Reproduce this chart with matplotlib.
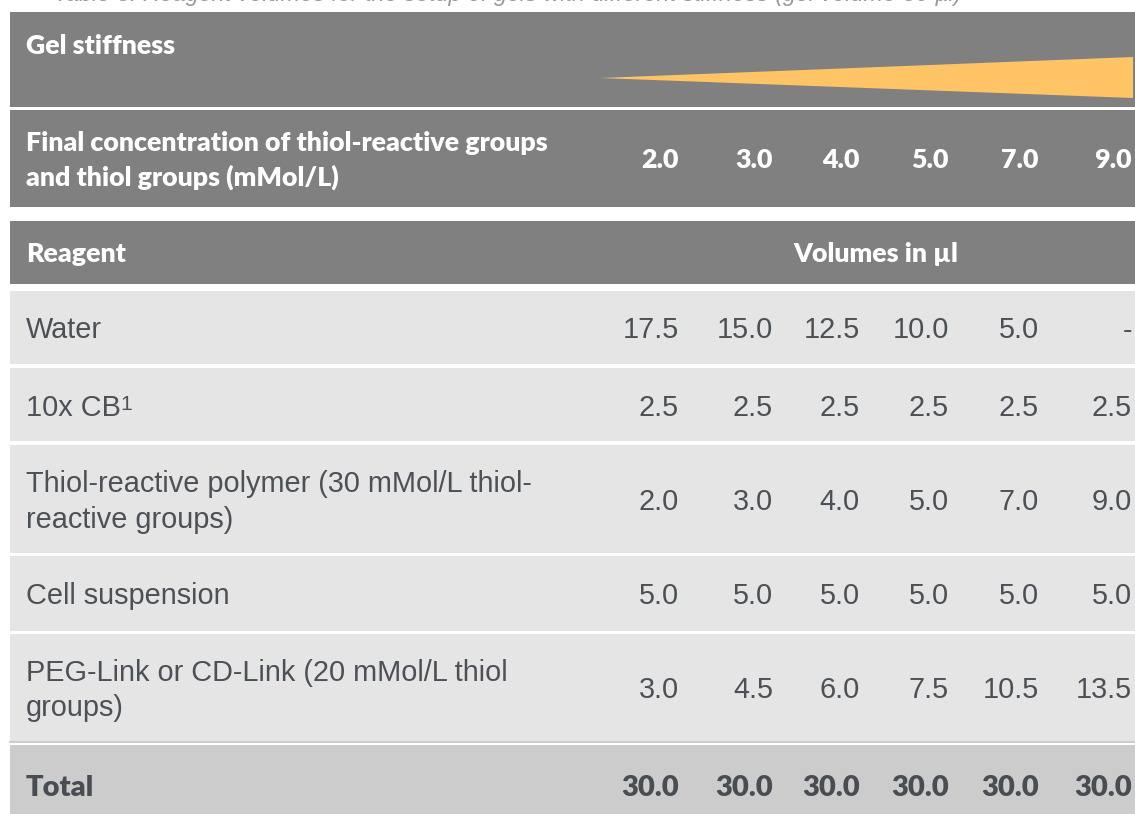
import matplotlib
matplotlib.use("Agg")
import matplotlib.pyplot as plt
from matplotlib.patches import Rectangle, Polygon

# table content
caption = "Table 3: Reagent volumes for the setup of gels with different stiffness (gel volume 30 µl)"
concentrations = ["2.0", "3.0", "4.0", "5.0", "7.0", "9.0"]
reagents = [
    "Water",
    "10x CB",
    "Thiol-reactive polymer (30 mMol/L thiol-\nreactive groups)",
    "Cell suspension",
    "PEG-Link or CD-Link (20 mMol/L thiol\ngroups)",
]
water = ["17.5", "15.0", "12.5", "10.0", "5.0", "-"]
buffer_cb = ["2.5", "2.5", "2.5", "2.5", "2.5", "2.5"]
polymer = ["2.0", "3.0", "4.0", "5.0", "7.0", "9.0"]
cells = ["5.0", "5.0", "5.0", "5.0", "5.0", "5.0"]
linker = ["3.0", "4.5", "6.0", "7.5", "10.5", "13.5"]
totals = ["30.0", "30.0", "30.0", "30.0", "30.0", "30.0"]
volumes = [water, buffer_cb, polymer, cells, linker]

# layout in pixels (y from the top)
W, H = 1135, 814
x0, x1 = 10, 1135
col_right = [679, 773, 860, 949, 1039, 1132]
row_spans = [(291, 364), (368, 441), (445, 553), (556, 631), (634, 741)]

dark_hdr = "#808080"
light_row = "#e5e5e5"
total_bg = "#cccccc"
body_col = "#4b5156"
hdr_font = dict(family="Lato", weight="heavy", color="white", fontsize=19.3)
body_font = dict(family="Liberation Sans", color=body_col, fontsize=20.8)

fig = plt.figure(figsize=(W / 100, H / 100), dpi=100)
ax = fig.add_axes([0, 0, 1, 1])
ax.set_xlim(0, W)
ax.set_ylim(H, 0)
ax.axis("off")


def band(y0, y1, color):
    ax.add_patch(Rectangle((x0, y0), x1 - x0, y1 - y0, color=color, lw=0))


# caption, mostly cut off by the top edge (as in the source)
ax.text(962, 1.5, caption, ha="right", va="baseline", family="Liberation Sans",
        style="italic", color="#9a9a9a", fontsize=16.8)

# header: gel stiffness with wedge
band(12, 107, dark_hdr)
ax.add_patch(Polygon([(600, 78), (1133, 57), (1133, 98)], closed=True,
                     color="#ffc466", lw=0))
ax.text(26, 54, "Gel stiffness", ha="left", va="baseline", **hdr_font)

# header: concentrations
band(110, 207, dark_hdr)
ax.text(26, 151, "Final concentration of thiol-reactive groups", ha="left",
        va="baseline", **hdr_font)
ax.text(26, 186, "and thiol groups (mMol/L)", ha="left", va="baseline", **hdr_font)
for xr, c in zip(col_right, concentrations):
    ax.text(xr, 168, c, ha="right", va="baseline", **hdr_font)

# header: reagent / volumes
band(221, 284, dark_hdr)
ax.text(26, 262, "Reagent", ha="left", va="baseline", **hdr_font)
ax.text(876, 262, "Volumes in µl", ha="center", va="baseline", **hdr_font)

# body rows
for (y0, y1), name, vals in zip(row_spans, reagents, volumes):
    band(y0, y1, light_row)
    mid = (y0 + y1) / 2
    lines = name.split("\n")
    if len(lines) == 1:
        t = ax.text(26, mid + 11, name, ha="left", va="baseline", **body_font)
    else:
        ax.text(26, mid - 6.5, lines[0], ha="left", va="baseline", **body_font)
        ax.text(26, mid + 28.5, lines[1], ha="left", va="baseline", **body_font)
    if name == "10x CB":
        ax.annotate("1", xy=(1, 0), xycoords=t, xytext=(0, 8),
                    textcoords="offset points", ha="left", va="baseline",
                    family="Liberation Sans", color=body_col, fontsize=15)
    for xr, v in zip(col_right, vals):
        ax.text(xr, mid + 11, v, ha="right", va="baseline", **body_font)

# total row
ax.plot([x0, x1], [741.5, 741.5], color="#c4c4c4", lw=1.2)
band(745, 814, total_bg)
tot_font = dict(family="Lato", weight="heavy", color="#474d52", fontsize=21)
ax.text(26, 796, "Total", ha="left", va="baseline", **tot_font)
for xr, v in zip(col_right, totals):
    ax.text(xr, 796, v, ha="right", va="baseline", **tot_font)

fig.savefig("out.png", dpi=100)
